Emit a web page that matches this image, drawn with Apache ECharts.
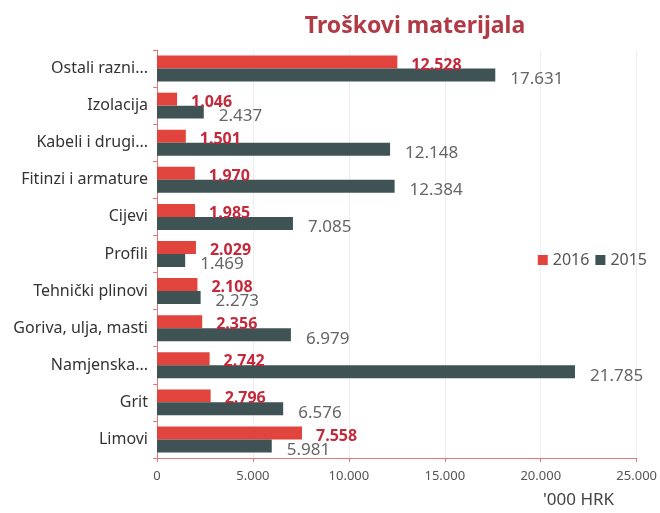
<!DOCTYPE html>
<html>
<head>
<meta charset="utf-8">
<script src="https://cdn.jsdelivr.net/npm/echarts@6/dist/echarts.min.js"></script>
<style>
    html, body { margin: 0; padding: 0; background: #fff; }
    #chart { width: 660px; height: 513px; }
</style>
</head>
<body>
<div id="chart"></div>
<script>
// kategorije odozgo prema dolje
const categories = [
    'Ostali razni...',
    'Izolacija',
    'Kabeli i drugi...',
    'Fitinzi i armature',
    'Cijevi',
    'Profili',
    'Tehnički plinovi',
    'Goriva, ulja, masti',
    'Namjenska...',
    'Grit',
    'Limovi'
]
const values2016 = [12528, 1046, 1501, 1970, 1985, 2029, 2108, 2356, 2742, 2796, 7558]
const values2015 = [17631, 2437, 12148, 12384, 7085, 1469, 2273, 6979, 21785, 6576, 5981]
const xTicks = [0, 5000, 10000, 15000, 20000, 25000]

// broj s točkom kao separatorom tisućica
function fmt(v) {
    return String(v).replace(/\B(?=(\d{3})+(?!\d))/g, '.')
}

const font = 'Noto Sans'
const chart = echarts.init(document.getElementById('chart'))

const option = {
    animation: false,
    textStyle: { fontFamily: font },
    title: {
        text: 'Troškovi materijala',
        left: 410,
        top: 10,
        textAlign: 'center',
        textStyle: {
            color: '#b03a46',
            fontSize: 23,
            fontWeight: 'bold',
            fontFamily: font
        }
    },
    legend: {
        right: 8,
        top: 247,
        itemWidth: 10,
        itemHeight: 10,
        itemGap: 6,
        icon: 'rect',
        textStyle: { color: '#555', fontSize: 16, fontFamily: font },
        data: ['2016', '2015']
    },
    grid: {
        left: 157,
        right: 15,
        top: 50,
        bottom: 55,
        containLabel: false
    },
    xAxis: {
        type: 'value',
        min: xTicks[0],
        max: xTicks[xTicks.length - 1],
        interval: 5000,
        axisLabel: {
            color: '#555',
            fontSize: 13,
            margin: 12,
            formatter: v => fmt(v)
        },
        axisLine: { show: true, lineStyle: { color: '#e07a7a' } },
        axisTick: { show: true, length: 4, lineStyle: { color: '#e07a7a' } },
        splitLine: { show: true, lineStyle: { color: '#eeeeee' } }
    },
    yAxis: {
        type: 'category',
        inverse: true,
        data: categories,
        axisLabel: { color: '#333', fontSize: 16, margin: 9 },
        axisLine: { show: true, lineStyle: { color: '#e07a7a' } },
        axisTick: { show: true, length: 4, lineStyle: { color: '#e07a7a' } }
    },
    graphic: [
        {
            type: 'text',
            left: 543,
            top: 492,
            style: { text: "'000 HRK", fill: '#444', fontSize: 17, fontFamily: font }
        }
    ],
    series: [
        {
            name: '2016',
            type: 'bar',
            data: values2016,
            barGap: '0%',
            barCategoryGap: '30%',
            itemStyle: { color: '#e0443c' },
            label: {
                show: true,
                position: 'right',
                distance: 14,
                offset: [0, 3],
                color: '#c42a3c',
                fontWeight: 'bold',
                fontSize: 16,
                formatter: p => fmt(p.value)
            }
        },
        {
            name: '2015',
            type: 'bar',
            data: values2015,
            itemStyle: { color: '#3f5254' },
            label: {
                show: true,
                position: 'right',
                distance: 15,
                offset: [0, 4],
                color: '#666',
                fontSize: 17,
                formatter: p => fmt(p.value)
            }
        }
    ]
}

chart.setOption(option)
window.addEventListener('resize', () => chart.resize())
</script>
</body>
</html>
